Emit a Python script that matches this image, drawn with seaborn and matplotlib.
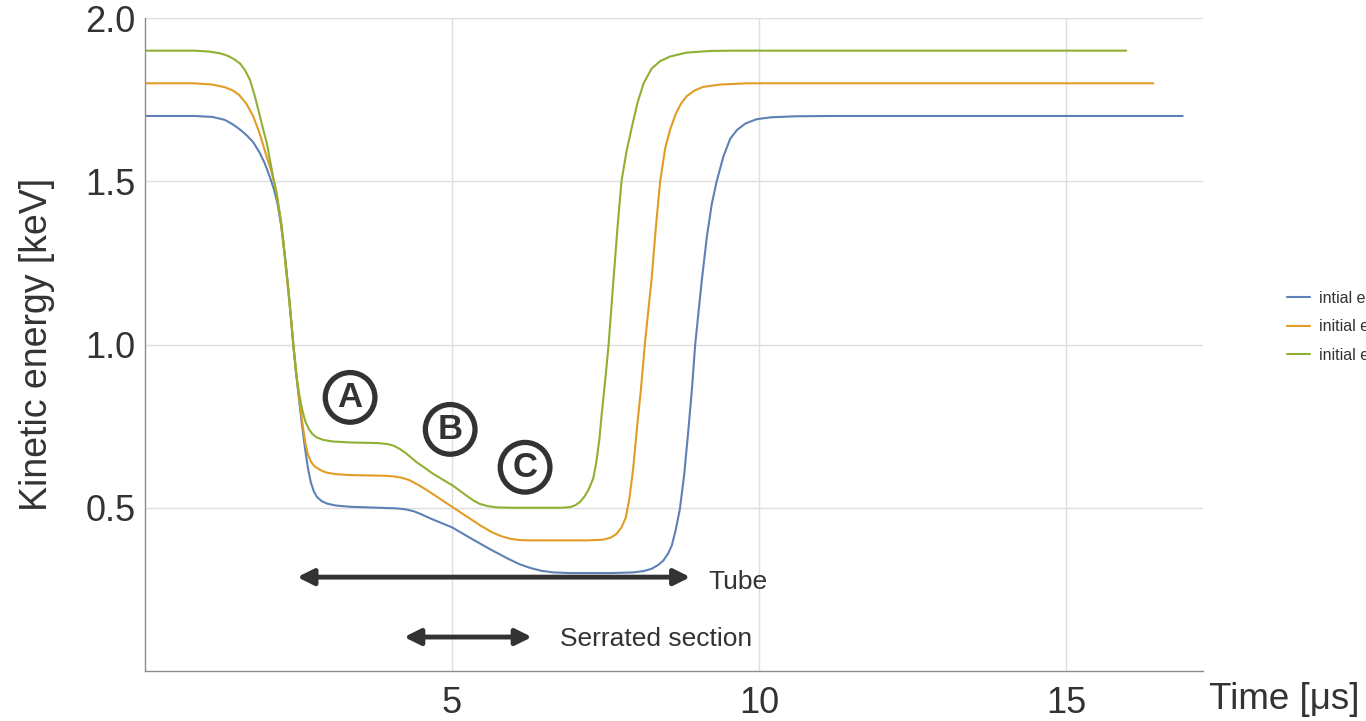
import numpy as np
import pandas as pd
import matplotlib
matplotlib.use("Agg")
import matplotlib.pyplot as plt
import seaborn as sns
from matplotlib.ticker import MultipleLocator, FixedLocator

# Kinetic energy traces (time in µs, energy in keV)
t_17 = [0, 0.8, 1.1, 1.3, 1.44, 1.55, 1.66, 1.76, 1.86, 1.95, 2.03, 2.10, 2.16, 2.22,
        2.28, 2.34, 2.415, 2.48, 2.54, 2.60, 2.65, 2.70, 2.75, 2.80, 2.88, 2.96, 3.1,
        3.34, 3.8, 4.1, 4.25, 4.38, 4.5, 4.65, 5.0, 5.3, 5.62, 5.9, 6.1, 6.27, 6.45,
        6.65, 6.9, 7.6, 7.95, 8.12, 8.25, 8.36, 8.44, 8.52, 8.58, 8.64, 8.71, 8.78,
        8.85, 8.91, 8.96, 9.02, 9.07, 9.15, 9.23, 9.31, 9.42, 9.53, 9.64, 9.78, 9.96,
        10.2, 10.6, 11.2, 16.9]
e_17 = [1.70, 1.70, 1.697, 1.688, 1.673, 1.658, 1.64, 1.62, 1.59, 1.555, 1.515, 1.475,
        1.43, 1.36, 1.27, 1.16, 1.0, 0.88, 0.78, 0.69, 0.625, 0.578, 0.55, 0.533, 0.52,
        0.513, 0.507, 0.503, 0.50, 0.498, 0.495, 0.489, 0.48, 0.467, 0.44, 0.407, 0.373,
        0.345, 0.327, 0.316, 0.307, 0.302, 0.300, 0.300, 0.302, 0.306, 0.313, 0.325,
        0.338, 0.36, 0.385, 0.43, 0.495, 0.60, 0.74, 0.87, 1.0, 1.11, 1.20, 1.33, 1.43,
        1.50, 1.576, 1.63, 1.657, 1.677, 1.69, 1.696, 1.699, 1.70, 1.70]

t_18 = [0, 0.8, 1.1, 1.3, 1.43, 1.53, 1.65, 1.76, 1.87, 1.98, 2.06, 2.14, 2.21, 2.28,
        2.35, 2.415, 2.47, 2.52, 2.57, 2.61, 2.65, 2.70, 2.76, 2.85, 2.95, 3.1, 3.34,
        3.9, 4.05, 4.18, 4.3, 4.45, 4.6, 5.0, 5.25, 5.46, 5.65, 5.8, 5.95, 6.1, 6.3,
        7.2, 7.45, 7.58, 7.68, 7.76, 7.83, 7.89, 7.95, 8.01, 8.08, 8.14, 8.20, 8.25,
        8.32, 8.39, 8.47, 8.55, 8.64, 8.73, 8.82, 8.95, 9.09, 9.36, 9.8, 16.42]
e_18 = [1.80, 1.80, 1.796, 1.788, 1.778, 1.765, 1.738, 1.70, 1.645, 1.576, 1.53, 1.47,
        1.38, 1.26, 1.13, 1.0, 0.90, 0.82, 0.75, 0.70, 0.665, 0.642, 0.627, 0.616,
        0.608, 0.603, 0.600, 0.598, 0.596, 0.592, 0.585, 0.57, 0.553, 0.503, 0.472,
        0.446, 0.425, 0.413, 0.405, 0.401, 0.40, 0.40, 0.402, 0.408, 0.42, 0.44, 0.47,
        0.53, 0.62, 0.74, 0.87, 1.0, 1.11, 1.20, 1.36, 1.50, 1.60, 1.657, 1.705, 1.738,
        1.76, 1.778, 1.789, 1.796, 1.80, 1.80]

t_19 = [0, 0.8, 1.05, 1.22, 1.35, 1.45, 1.55, 1.63, 1.71, 1.79, 1.87, 1.93, 1.98, 2.04,
        2.10, 2.16, 2.23, 2.30, 2.36, 2.415, 2.46, 2.51, 2.56, 2.61, 2.67, 2.73, 2.80,
        2.9, 3.05, 3.34, 3.8, 3.95, 4.05, 4.15, 4.25, 4.42, 4.7, 5.02, 5.2, 5.35, 5.45,
        5.58, 5.73, 6.0, 6.8, 6.92, 7.0, 7.08, 7.16, 7.23, 7.30, 7.35, 7.40, 7.44, 7.50,
        7.55, 7.63, 7.70, 7.76, 7.84, 7.93, 8.02, 8.12, 8.25, 8.39, 8.55, 8.82, 9.2,
        9.6, 15.98]
e_19 = [1.90, 1.90, 1.897, 1.892, 1.884, 1.874, 1.86, 1.84, 1.81, 1.76, 1.70, 1.655,
        1.62, 1.56, 1.50, 1.44, 1.36, 1.23, 1.12, 1.0, 0.91, 0.85, 0.80, 0.765, 0.74,
        0.725, 0.715, 0.708, 0.703, 0.70, 0.698, 0.695, 0.69, 0.68, 0.667, 0.64, 0.603,
        0.567, 0.542, 0.522, 0.512, 0.505, 0.501, 0.50, 0.50, 0.502, 0.507, 0.517,
        0.535, 0.558, 0.59, 0.64, 0.71, 0.791, 0.90, 1.0, 1.20, 1.37, 1.50, 1.59, 1.667,
        1.74, 1.80, 1.845, 1.868, 1.882, 1.894, 1.899, 1.90, 1.90]

series_labels = ["intial energy 1.7 keV", "initial energy 1.8 keV", "initial energy 1.9 keV"]
series_colors = ["#5E81B5", "#E19C24", "#8FB032"]

x_major = [5, 10, 15]
y_major = [0.5, 1.0, 1.5, 2.0]

# Region markers and spans
region_letters = ["A", "B", "C"]
region_t = [3.34, 4.97, 6.19]
region_e = [0.838, 0.74, 0.624]

tube_span = (2.48, 8.88)
tube_e = 0.2875
serrated_span = (4.22, 6.30)
serrated_e = 0.104

frames = []
for t, e, lab in zip([t_17, t_18, t_19], [e_17, e_18, e_19], series_labels):
    frames.append(pd.DataFrame({"time": t, "energy": e, "series": lab}))
df = pd.concat(frames, ignore_index=True)

sns.set_theme(style="white")
plt.rcParams["font.family"] = ["Liberation Sans", "DejaVu Sans"]

text_color = "#333333"
axis_color = "#8c8c8c"

fig = plt.figure(figsize=(13.66, 7.21), dpi=100)
ax = fig.add_axes([145 / 1366, 50 / 721, 1058 / 1366, 653 / 721])

sns.lineplot(data=df, x="time", y="energy", hue="series", palette=series_colors,
             sort=False, estimator=None, linewidth=1.5, ax=ax)

ax.set_xlim(0, 17.23)
ax.set_ylim(0, 2.0)

ax.xaxis.set_major_locator(FixedLocator(x_major))
ax.xaxis.set_minor_locator(MultipleLocator(1))
ax.yaxis.set_major_locator(FixedLocator(y_major))
ax.yaxis.set_minor_locator(MultipleLocator(0.1))
ax.set_xticklabels([str(v) for v in x_major])
ax.set_yticklabels([f"{v:.1f}" for v in y_major])

ax.grid(True, which="major", color="#dedede", linewidth=1.0)
ax.set_axisbelow(True)

for side in ["top", "right"]:
    ax.spines[side].set_visible(False)
for side in ["left", "bottom"]:
    ax.spines[side].set_color(axis_color)
    ax.spines[side].set_linewidth(1.0)

ax.tick_params(axis="both", which="major", direction="in", length=6, width=1,
               color=axis_color, labelsize=26, labelcolor=text_color)
ax.tick_params(axis="both", which="minor", direction="in", length=3, width=0.8,
               color=axis_color)
ax.tick_params(axis="x", which="major", pad=11)
ax.tick_params(axis="y", which="major", pad=7)

ax.set_xlabel("")
ax.set_ylabel("Kinetic energy [keV]", fontsize=27, color=text_color)
ax.yaxis.set_label_coords(-0.085, 0.5)
ax.text(1.006, -0.044, "Time [μs]", transform=ax.transAxes, ha="left", va="center",
        fontsize=26.5, color=text_color)

# Circled region letters
for letter, t, e in zip(region_letters, region_t, region_e):
    ax.text(t, e, letter, ha="center", va="center", fontsize=25, fontweight="bold",
            color=text_color,
            bbox=dict(boxstyle="circle,pad=0.24", fc="none", ec=text_color, lw=3.8))

# Double-headed span arrows
arrow_kw = dict(arrowstyle="<|-|>", color=text_color, lw=3.5, mutation_scale=24,
                shrinkA=0, shrinkB=0)
ax.annotate("", xy=(tube_span[1], tube_e), xytext=(tube_span[0], tube_e),
            arrowprops=arrow_kw)
ax.text(9.17, 0.272, "Tube", ha="left", va="center", fontsize=19, color=text_color)
ax.annotate("", xy=(serrated_span[1], serrated_e), xytext=(serrated_span[0], serrated_e),
            arrowprops=arrow_kw)
ax.text(6.76, 0.098, "Serrated section", ha="left", va="center", fontsize=19,
        color=text_color)

# Legend at the right edge
handles, labels = ax.get_legend_handles_labels()
ax.get_legend().remove()
fig.legend(handles, labels, loc="center left", bbox_to_anchor=(1287 / 1366, 1 - 327 / 721),
           frameon=False, fontsize=11.5, handlelength=1.45, handletextpad=0.55,
           labelspacing=0.85, borderpad=0, borderaxespad=0, labelcolor=text_color)

fig.savefig("out.png", dpi=100)
